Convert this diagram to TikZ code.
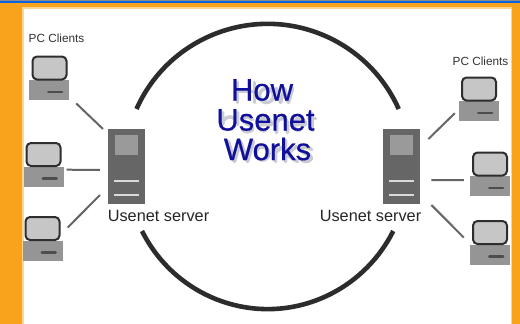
\documentclass[tikz,border=0pt]{standalone}
\usepackage{fontspec}
\setmainfont{Liberation Sans}
\newfontfamily\titlefont[FakeBold=0.5]{Liberation Sans}
\definecolor{frameorange}{HTML}{F9A21C}
\definecolor{softorange}{HTML}{FCD590}
\definecolor{topblue}{HTML}{0A63E0}
\definecolor{monfill}{HTML}{C6C6C6}
\definecolor{monline}{HTML}{2E2E2E}
\definecolor{basefill}{HTML}{959595}
\definecolor{srvfill}{HTML}{666666}
\definecolor{srvinner}{HTML}{9A9A9A}
\definecolor{ringc}{HTML}{2C2C2C}
\definecolor{titleblue}{HTML}{10109A}
\definecolor{glow}{HTML}{A8ABB8}
\tikzset{
 monitor/.style={draw=monline,line width=2pt,fill=monfill,rounded corners=4.5pt,inner sep=0pt,minimum width=34pt,minimum height=23pt},
 pcbase/.style={fill=basefill,inner sep=0pt,minimum width=40pt,minimum height=20pt},
 server/.style={fill=srvfill,inner sep=0pt,minimum width=37pt,minimum height=75pt},
 srvpanel/.style={fill=srvinner,inner sep=0pt,minimum width=23pt,minimum height=20pt},
 slot/.style={draw=monline!85!white,line width=2.2pt,line cap=round},
 srvslot/.style={draw=white!85!black,line width=2pt},
 link/.style={draw=srvfill,line width=2pt},
 ring/.style={draw=ringc,line width=4.6pt},
 small/.style={inner sep=0pt,text=black!80,font=\fontsize{11.8}{12}\selectfont},
 srvlabel/.style={inner sep=0pt,text=black!85,font=\fontsize{16.3}{17}\selectfont},
 titleline/.style={inner sep=0pt,text=titleblue,font=\titlefont\fontsize{31}{32}\selectfont},
 glowstroke/.style={draw=glow,line width=3.6pt,opacity=.6,line cap=round,line join=round}
}
\newcommand{\pcunit}[4]{%
 \node[pcbase,anchor=north] (#1b) at (#2,#3+25.5) {};
 \node[monitor,anchor=north] (#1m) at (#4,#3+1) {};
 \draw[slot] ([shift={(-7,12)}]#1b.north east) -- ++(-14,0);
}
\begin{document}
\begin{tikzpicture}[x=1pt,y=-1pt]
\useasboundingbox (0,0) rectangle (520,324);
\fill[frameorange] (0,0) rectangle (520,324);
\fill[black!45] (0,0) rectangle (520,1);
\fill[topblue] (0,1) rectangle (520,3.2);
\fill[softorange] (22,7) rectangle (512,324);
\fill[white] (23.5,9) rectangle (510.5,324);
\draw[ring] (136.5,109) arc[start angle=204,end angle=336,radius=143.5];
\draw[ring] (142,231) arc[start angle=153,end angle=27,x radius=141,y radius=143];
\node[server,anchor=north west] (srvL) at (108,129) {};
\node[srvpanel,anchor=north] (panelL) at ([shift={(0,6)}]srvL.north) {};
\draw[srvslot] ([shift={(6,-23)}]srvL.south west) -- ([shift={(-6,-23)}]srvL.south east);
\draw[srvslot] ([shift={(6,-9)}]srvL.south west) -- ([shift={(-6,-9)}]srvL.south east);
\node[server,anchor=north west] (srvR) at (383,129) {};
\node[srvpanel,anchor=north] (panelR) at ([shift={(0,6)}]srvR.north) {};
\draw[srvslot] ([shift={(6,-23)}]srvR.south west) -- ([shift={(-6,-23)}]srvR.south east);
\draw[srvslot] ([shift={(6,-9)}]srvR.south west) -- ([shift={(-6,-9)}]srvR.south east);
\pcunit{a}{49}{54.5}{49.5}
\pcunit{b}{43.5}{141}{43.5}
\pcunit{c}{42.5}{215}{42.5}
\pcunit{d}{479}{75.5}{479}
\pcunit{e}{490}{150.5}{490}
\pcunit{f}{490}{219}{490}
\draw[link] ([shift={(7,3)}]ab.south east) -- ([shift={(-5,0)}]srvL.north west);
\draw[link] ([shift={(3,-7)}]bb.east) -- ([shift={(-8,41)}]srvL.north west);
\draw[link] ([shift={(5,-13)}]cb.north east) -- ([shift={(-8,66)}]srvL.north west);
\draw[link] ([shift={(8,10)}]srvR.north east) -- ([shift={(-4,2)}]db.west);
\draw[link] ([shift={(11,51)}]srvR.north east) -- ([shift={(-6,-6)}]eb.west);
\draw[link] ([shift={(11,76)}]srvR.north east) -- ([shift={(-6,-7)}]fb.north west);
\node[small] (lblL) at (56.5,38) {PC Clients};
\node[small] (lblR) at (480.5,61) {PC Clients};
\node[srvlabel] (srvtL) at (158.5,215.5) {Usenet server};
\node[srvlabel] (srvtR) at (370.5,215.5) {Usenet server};
\begin{scope}[shift={(2.5,2.5)},glowstroke]
 \draw (235,80)--(235,100) (252,80)--(252,100) (235,89)--(252,89);
 \draw (264,93) circle[radius=7];
 \draw (274,86)--(278,100)--(282,86)--(286,100)--(290,86);
 \draw (220,110)--(220,122) arc[start angle=180,end angle=0,x radius=7.5,y radius=-7.5]--(235,110);
 \draw (250,117) .. controls (246,113) and (240,114) .. (241,118) .. controls (242,122) and (251,122) .. (250,127) .. controls (248,130) and (242,130) .. (240,127);
 \draw (256,122)--(269,122) (269,122) arc[start angle=0,end angle=-270,radius=6.5];
 \draw (274,116)--(274,130) (274,121) .. controls (276,114) and (285,114) .. (285,122)--(285,130);
 \draw (291,122)--(303,122) (303,122) arc[start angle=0,end angle=-270,radius=6];
 \draw (310,111)--(310,128) (306,116)--(313,116);
 \draw (226,139)--(232,159)--(238,139)--(245,159)--(251,139);
 \draw (260,151) circle[radius=6.5];
 \draw (273,144)--(273,159) (273,150)--(279,145);
 \draw (283,138)--(283,159) (294,144)--(284,152)--(295,159);
 \draw (309,147) .. controls (305,143) and (298,144) .. (299,148) .. controls (300,152) and (310,152) .. (309,156) .. controls (307,160) and (300,160) .. (298,156);
\end{scope}
\node[titleline] (t1) at (262,90) {How};
\node[titleline] (t2) at (265.5,120) {Usenet};
\node[titleline] (t3) at (267.5,149) {Works};
\end{tikzpicture}
\end{document}
